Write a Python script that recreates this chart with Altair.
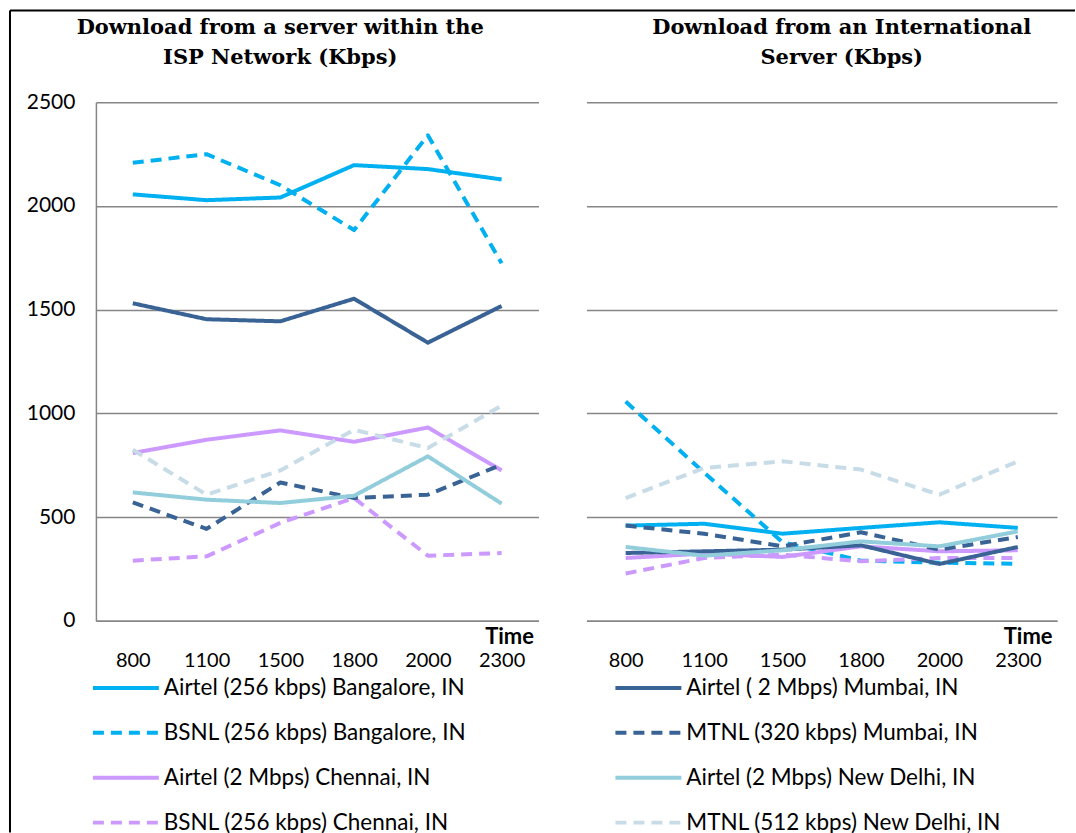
import altair as alt
import pandas as pd

times = ["800", "1100", "1500", "1800", "2000", "2300"]

# legend is filled column by column (left column first)
series = [
    "Airtel (256 kbps) Bangalore, IN",
    "BSNL (256 kbps) Bangalore, IN",
    "Airtel (2 Mbps) Chennai, IN",
    "BSNL (256 kbps) Chennai, IN",
    "Airtel ( 2 Mbps) Mumbai, IN",
    "MTNL (320 kbps) Mumbai, IN",
    "Airtel (2 Mbps) New Delhi, IN",
    "MTNL (512 kbps) New Delhi, IN",
]
colors = ["#00B0F0", "#00B0F0", "#CC99FF", "#CC99FF",
          "#3A6395", "#3A6395", "#92CDDC", "#C8DCE7"]
dashes = [[1, 0], [11, 7], [1, 0], [11, 7], [1, 0], [11, 7], [1, 0], [11, 7]]

# Download from a server within the ISP network (Kbps)
isp_airtel_blr = [2056, 2028, 2041, 2197, 2178, 2128]
isp_bsnl_blr = [2208, 2250, 2100, 1884, 2341, 1724]
isp_airtel_che = [809, 873, 918, 863, 932, 725]
isp_bsnl_che = [290, 311, 472, 592, 314, 327]
isp_airtel_mum = [1531, 1454, 1444, 1553, 1341, 1518]
isp_mtnl_mum = [571, 443, 667, 592, 608, 753]
isp_airtel_del = [619, 584, 568, 603, 793, 565]
isp_mtnl_del = [825, 608, 725, 921, 833, 1037]

# Download from an international server (Kbps)
int_airtel_blr = [459, 468, 420, 448, 475, 448]
int_bsnl_blr = [1057, 715, 379, 290, 280, 275]
int_airtel_che = [303, 324, 308, 359, 335, 340]
int_bsnl_che = [228, 303, 319, 287, 303, 303]
int_airtel_mum = [327, 335, 343, 364, 274, 356]
int_mtnl_mum = [459, 420, 359, 427, 343, 404]
int_airtel_del = [356, 314, 340, 383, 359, 431]
int_mtnl_del = [592, 737, 769, 729, 608, 769]

isp_values = [isp_airtel_blr, isp_bsnl_blr, isp_airtel_che, isp_bsnl_che,
              isp_airtel_mum, isp_mtnl_mum, isp_airtel_del, isp_mtnl_del]
int_values = [int_airtel_blr, int_bsnl_blr, int_airtel_che, int_bsnl_che,
              int_airtel_mum, int_mtnl_mum, int_airtel_del, int_mtnl_del]


def frame(values):
    rows = []
    for s, vals in zip(series, values):
        for t, v in zip(times, vals):
            rows.append({"series": s, "time": t, "value": v})
    return pd.DataFrame(rows)


GRID = "#868686"
LABEL_FONT = "Lato"
TITLE_FONT = "DejaVu Serif"

color_enc = alt.Color(
    "series:N",
    scale=alt.Scale(domain=series, range=colors),
    legend=alt.Legend(
        title=None,
        orient="none",
        legendX=6,
        legendY=562,
        columns=2,
        columnPadding=128,
        rowPadding=9,
        symbolType="M-1.5,0H1.5",
        symbolSize=1936,
        symbolStrokeWidth=4,
        symbolFillColor="transparent",
        labelFont=LABEL_FONT,
        labelFontSize=22.5,
        labelColor="#000000",
        labelOffset=14,
        labelLimit=400,
        gridAlign="all",
    ),
)
dash_enc = alt.StrokeDash(
    "series:N",
    scale=alt.Scale(domain=series, range=dashes),
    legend=alt.Legend(title=None),
)


def panel(values, title_lines, width, show_y, title_dx, title_offset):
    df = frame(values)
    x_enc = alt.X(
        "time:O",
        sort=times,
        scale=alt.Scale(type="point", padding=0.5),
        axis=alt.Axis(
            title="Time",
            titleFont=LABEL_FONT,
            titleFontSize=22,
            titleFontWeight="bold",
            titleColor="#000000",
            titleAlign="right",
            titleBaseline="middle",
            titleX=width - 5,
            titleY=16,
            labelFont=LABEL_FONT,
            labelFontSize=20,
            labelColor="#000000",
            labelAngle=0,
            labelPadding=30,
            ticks=False,
            domainColor=GRID,
            domainWidth=1.5,
            grid=False,
        ),
    )
    if show_y:
        y_axis = alt.Axis(
            title=None,
            values=[0, 500, 1000, 1500, 2000, 2500],
            format="d",
            labelFont=LABEL_FONT,
            labelFontSize=21,
            labelColor="#000000",
            labelPadding=21,
            ticks=False,
            domainColor=GRID,
            domainWidth=1.5,
            gridColor=GRID,
            gridWidth=1.5,
        )
    else:
        y_axis = alt.Axis(
            title=None,
            values=[0, 500, 1000, 1500, 2000, 2500],
            labels=False,
            ticks=False,
            domain=False,
            gridColor=GRID,
            gridWidth=1.5,
        )
    y_enc = alt.Y("value:Q", scale=alt.Scale(domain=[0, 2500], nice=False), axis=y_axis)
    lines = alt.Chart(df).mark_line(strokeWidth=4, strokeCap="butt", strokeJoin="round").encode(
        x=x_enc, y=y_enc, color=color_enc, strokeDash=dash_enc,
    )
    ch = lines
    if show_y:
        border = alt.Chart(alt.Data(values=[{}])).mark_rule(color="#000000", strokeWidth=2).encode(
            x=alt.value(-86), x2=alt.value(980), y=alt.value(-92), y2=alt.value(-92)
        )
        border2 = alt.Chart(alt.Data(values=[{}])).mark_rule(color="#000000", strokeWidth=2).encode(
            x=alt.value(-86), x2=alt.value(-86), y=alt.value(-92), y2=alt.value(731)
        )
        ch = alt.layer(border, border2, lines)
    return ch.properties(
        width=width,
        height=519,
        title=alt.TitleParams(
            text=title_lines,
            font=TITLE_FONT,
            fontSize=21,
            fontWeight="bold",
            color="#000000",
            anchor="middle",
            frame="group",
            lineHeight=30,
            offset=title_offset,
            dx=title_dx,
        ),
    )


left = panel(isp_values, ["Download from  a server within the", "ISP  Network (Kbps)"], 443, True, -37, -59)
right = panel(int_values, ["Download from  an International", "Server (Kbps)"], 471, False, 20, 34)

chart = alt.hconcat(left, right, spacing=48, bounds="flush").properties(
    padding={"left": 9, "top": 9, "right": 0, "bottom": 0},
    background="#FFFFFF",
).configure_view(stroke=None)

chart.save("out.html", embed_options={"renderer": "svg", "actions": False})
